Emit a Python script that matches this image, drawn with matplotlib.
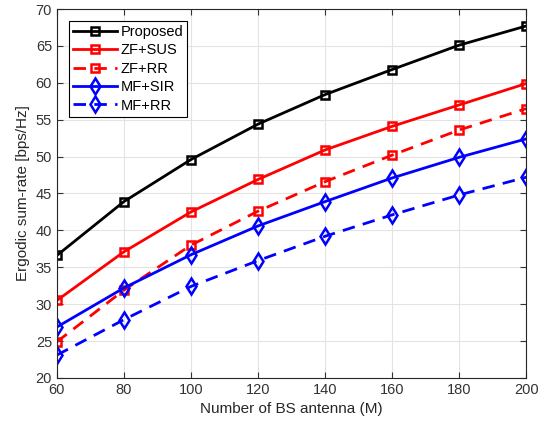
import matplotlib
matplotlib.use('Agg')
import matplotlib.pyplot as plt

plt.rcParams['font.family'] = ['Liberation Sans', 'DejaVu Sans']

# Datos
antenas = [60, 80, 100, 120, 140, 160, 180, 200]
proposed = [36.6, 43.9, 49.6, 54.4, 58.4, 61.8, 65.1, 67.7]
zf_sus = [30.5, 37.1, 42.5, 46.9, 50.9, 54.1, 57.0, 59.9]
zf_rr = [24.9, 31.9, 38.0, 42.6, 46.6, 50.2, 53.6, 56.5]
mf_sir = [26.9, 32.2, 36.7, 40.6, 43.9, 47.1, 49.9, 52.4]
mf_rr = [23.1, 27.9, 32.4, 35.9, 39.2, 42.1, 44.8, 47.2]

fig = plt.figure(figsize=(5.47, 4.29), dpi=100)
ax = fig.add_axes([0.104, 0.119, 0.858, 0.86])

guiones = (4.5, 3)
ax.plot(antenas, proposed, '-s', color='black', lw=2, ms=6, mfc='none', mew=1.8, label='Proposed')
ax.plot(antenas, zf_sus, '-s', color='red', lw=2, ms=6, mfc='none', mew=1.8, label='ZF+SUS')
ax.plot(antenas, zf_rr, '--s', color='red', lw=2, ms=6, mfc='none', mew=1.8, dashes=guiones, label='ZF+RR')
ax.plot(antenas, mf_sir, '-d', color='blue', lw=2, ms=8, mfc='none', mew=1.8, label='MF+SIR')
ax.plot(antenas, mf_rr, '--d', color='blue', lw=2, ms=8, mfc='none', mew=1.8, dashes=guiones, label='MF+RR')

ax.set_xlim(60, 200)
ax.set_ylim(20, 70)
ax.set_xticks(range(60, 201, 20))
ax.set_yticks(range(20, 71, 5))
ax.grid(True, color='#e3e3e3', lw=0.8)
ax.tick_params(direction='in', top=True, right=True, labelsize=10.5, colors='#333333', length=4)
for s in ax.spines.values():
    s.set_color('#262626')
    s.set_linewidth(0.8)

ax.set_xlabel('Number of BS antenna (M)', fontsize=11, color='#262626')
ax.set_ylabel('Ergodic sum-rate [bps/Hz]', fontsize=11, color='#262626')

leg = ax.legend(loc='upper left', fontsize=10.5, fancybox=False, edgecolor='black',
                handlelength=3.0, borderaxespad=0.8, labelspacing=0.3, handletextpad=0.25,
                borderpad=0.3, framealpha=1)
leg.get_frame().set_linewidth(0.8)

fig.savefig('out.png', dpi=100)
